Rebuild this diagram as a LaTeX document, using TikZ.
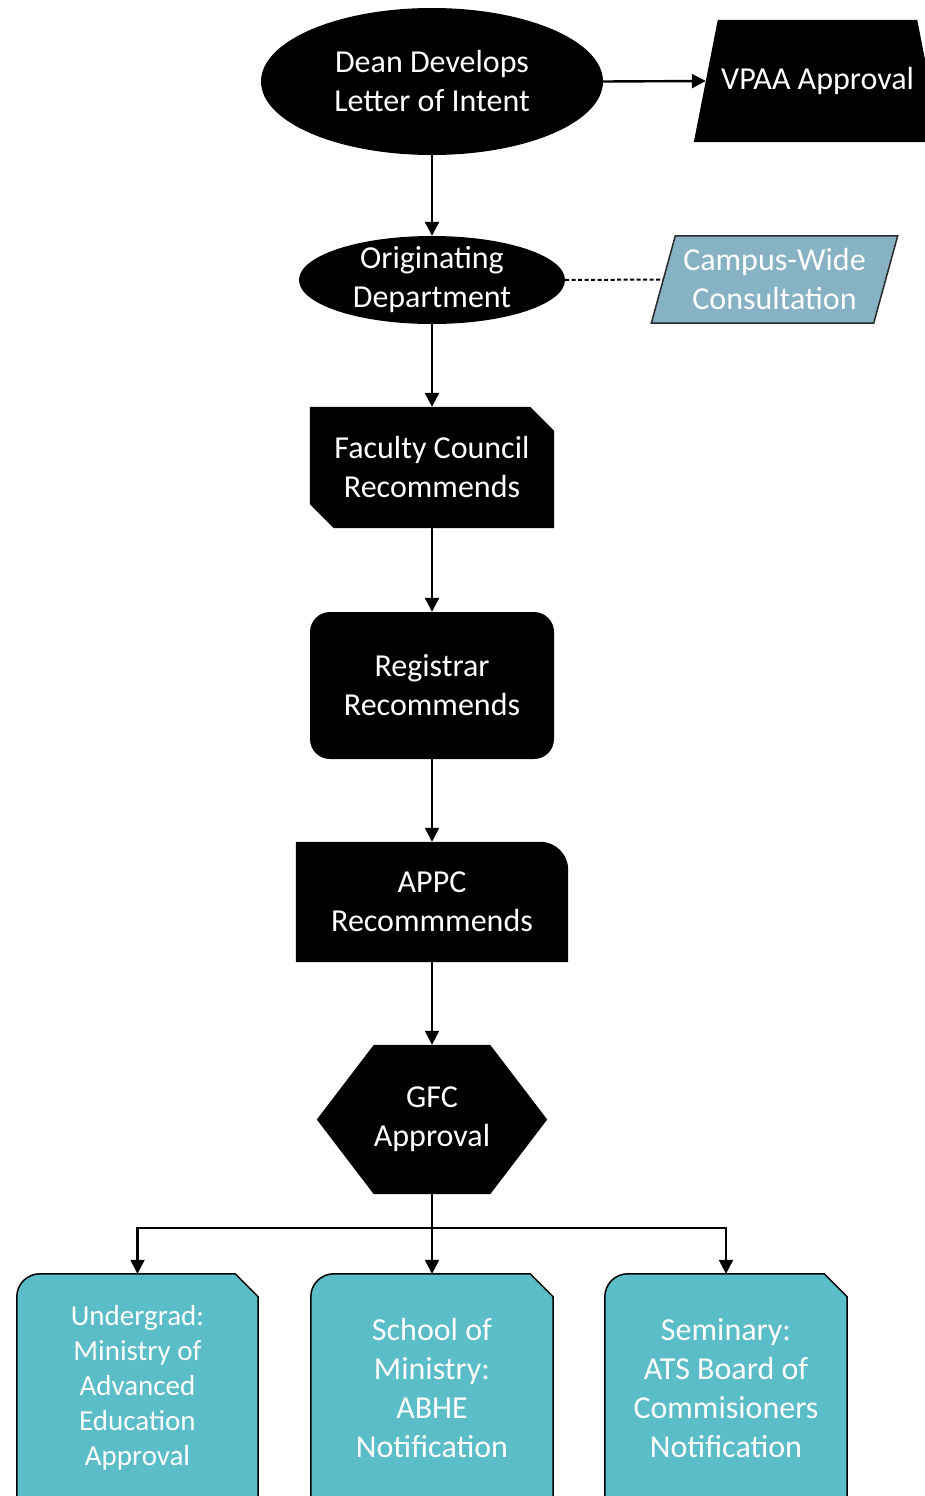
\documentclass[tikz,border=0pt]{standalone}
\usepackage{fontspec}
\setmainfont{Carlito}
\usetikzlibrary{shapes.geometric,arrows.meta,calc,backgrounds}
\definecolor{tealbox}{HTML}{5BBDC8}
\definecolor{campblue}{HTML}{87B2C4}
\definecolor{edgegray}{HTML}{2A2A2A}
\begin{document}
\begin{tikzpicture}[x=1pt,y=-1pt,
  lbl/.style={text=white, align=center, inner sep=0pt, rectangle,
    font=\fontsize{32}{39}\selectfont},
  arr/.style={line width=2.4pt, -{Triangle[length=14pt,width=14pt]}},
  dots/.style={line width=2pt, dash pattern=on 4pt off 2.5pt},
  tealshape/.style={fill=tealbox, draw=black, line width=1.5pt},
]
\useasboundingbox (0,0) rectangle (925,1496);
\clip (0,0) rectangle (925,1496);

% nodes
\node[lbl, ellipse, fill=black, minimum width=342pt, minimum height=147pt] (dean) at (432,81.5) {Dean Develops\\Letter of Intent};
\node[lbl, minimum width=223pt, minimum height=122pt] (vpaa) at (817.5,81) {VPAA Approval};
\node[lbl, minimum width=266pt, minimum height=88pt] (orig) at (432,280) {Originating\\Department};
\node[lbl, minimum width=222pt, minimum height=87pt] (camp) at (774.5,279.5) {Campus-Wide\\Consultation};
\node[lbl, minimum width=244pt, minimum height=121pt] (fc) at (432,467.5) {Faculty Council\\Recommends};
\node[lbl, fill=black, rounded corners=20pt, minimum width=244pt, minimum height=147pt] (reg) at (432,685.5) {Registrar\\Recommends};
\node[lbl, minimum width=272pt, minimum height=120pt] (appc) at (432,902) {APPC\\Recommmends};
\node[lbl, minimum width=230pt, minimum height=149pt] (gfc) at (432,1119.5) {GFC\\Approval};
\node[lbl, font=\fontsize{29}{35}\selectfont, minimum width=241pt, minimum height=228pt] (ug) at (137.5,1388) {Undergrad:\\Ministry of\\Advanced\\Education\\Approval};
\node[lbl, minimum width=242pt, minimum height=228pt] (sch) at (432,1388) {School of\\Ministry:\\ABHE\\Notification};
\node[lbl, minimum width=242pt, minimum height=228pt] (sem) at (726,1388) {Seminary:\\ATS Board of\\Commisioners\\Notification};
\coordinate (br) at (432,1228);

% shapes behind the text
\begin{scope}[on background layer]
  \fill[black] ($(vpaa.north west)+(12,0)$) -- ($(vpaa.north east)+(-12,0)$)
     -- ($(vpaa.south east)+(12,0)$) -- ($(vpaa.south west)+(-12,0)$) -- cycle;
  \fill[black] (orig.center) ellipse [x radius=133pt, y radius=44pt];
  \filldraw[fill=campblue, draw=edgegray, line width=1.5pt]
     ($(camp.north west)+(12,0)$) -- ($(camp.north east)+(12,0)$)
     -- ($(camp.south east)+(-12,0)$) -- ($(camp.south west)+(-12,0)$) -- cycle;
  \fill[black] (fc.north west) -- ($(fc.north east)+(-24,0)$) -- ($(fc.north east)+(0,24)$)
     -- (fc.south east) -- ($(fc.south west)+(24,0)$) -- ($(fc.south west)+(0,-24)$) -- cycle;
  \fill[black] (appc.south west) -- (appc.north west) -- ($(appc.north east)+(-28,0)$)
     arc[start angle=90, end angle=0, radius=28pt] -- (appc.south east) -- cycle;
  \fill[black] (gfc.west) -- ($(gfc.north west)+(57,0)$) -- ($(gfc.north east)+(-57,0)$)
     -- (gfc.east) -- ($(gfc.south east)+(-57,0)$) -- ($(gfc.south west)+(57,0)$) -- cycle;
  \foreach \b in {ug,sch,sem}{
    \filldraw[tealshape] (\b.south west) -- ($(\b.north west)+(0,23)$)
       arc[start angle=180, end angle=90, radius=23pt]
       -- ($(\b.north east)+(-23,0)$) -- ($(\b.north east)+(0,23)$) -- (\b.south east) -- cycle;
  }
\end{scope}

% connectors
\draw[arr] (dean.east) -- (vpaa.west);
\draw[arr] (dean.south) -- (orig.north);
\draw[dots] (orig.east) -- (camp.west);
\draw[arr] (orig.south) -- (fc.north);
\draw[arr] (fc.south) -- (reg.north);
\draw[arr] (reg.south) -- (appc.north);
\draw[arr] (appc.south) -- (gfc.north);
\draw[arr] (gfc.south) -- (sch.north);
\draw[arr] (br) -| (ug.north);
\draw[arr] (br) -| (sem.north);
\end{tikzpicture}
\end{document}
